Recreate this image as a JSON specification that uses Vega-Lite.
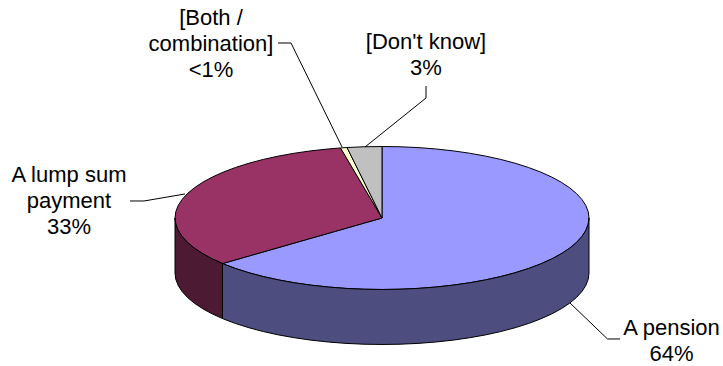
{
  "$schema": "https://vega.github.io/schema/vega-lite/v6.json",
  "width": 723,
  "height": 366,
  "padding": 0,
  "autosize": {"type": "none"},
  "background": "white",
  "config": {"view": {"stroke": null}},
  "layer": [
    {
      "data": {"values": [
        {"part":"A pension","u":0,"v":0},{"part":"A pension","u":0,"v":1},{"part":"A pension","u":0.0872,"v":0.9962},{"part":"A pension","u":0.1736,"v":0.9848},{"part":"A pension","u":0.2588,"v":0.9659},{"part":"A pension","u":0.342,"v":0.9397},{"part":"A pension","u":0.4226,"v":0.9063},{"part":"A pension","u":0.5,"v":0.866},{"part":"A pension","u":0.5736,"v":0.8192},{"part":"A pension","u":0.6428,"v":0.766},{"part":"A pension","u":0.7071,"v":0.7071},{"part":"A pension","u":0.766,"v":0.6428},{"part":"A pension","u":0.8192,"v":0.5736},{"part":"A pension","u":0.866,"v":0.5},{"part":"A pension","u":0.9063,"v":0.4226},{"part":"A pension","u":0.9397,"v":0.342},{"part":"A pension","u":0.9659,"v":0.2588},{"part":"A pension","u":0.9848,"v":0.1736},{"part":"A pension","u":0.9962,"v":0.0872},{"part":"A pension","u":1,"v":0},{"part":"A pension","u":0.9962,"v":-0.0872},{"part":"A pension","u":0.9848,"v":-0.1736},{"part":"A pension","u":0.9659,"v":-0.2588},{"part":"A pension","u":0.9397,"v":-0.342},{"part":"A pension","u":0.9063,"v":-0.4226},{"part":"A pension","u":0.866,"v":-0.5},{"part":"A pension","u":0.8192,"v":-0.5736},{"part":"A pension","u":0.766,"v":-0.6428},{"part":"A pension","u":0.7071,"v":-0.7071},{"part":"A pension","u":0.6428,"v":-0.766},{"part":"A pension","u":0.5736,"v":-0.8192},{"part":"A pension","u":0.5,"v":-0.866},{"part":"A pension","u":0.4226,"v":-0.9063},{"part":"A pension","u":0.342,"v":-0.9397},{"part":"A pension","u":0.2588,"v":-0.9659},{"part":"A pension","u":0.1736,"v":-0.9848},{"part":"A pension","u":0.0872,"v":-0.9962},{"part":"A pension","u":0,"v":-1},{"part":"A pension","u":-0.0872,"v":-0.9962},{"part":"A pension","u":-0.1736,"v":-0.9848},{"part":"A pension","u":-0.2588,"v":-0.9659},{"part":"A pension","u":-0.342,"v":-0.9397},{"part":"A pension","u":-0.4226,"v":-0.9063},{"part":"A pension","u":-0.5,"v":-0.866},{"part":"A pension","u":-0.5736,"v":-0.8192},{"part":"A pension","u":-0.6428,"v":-0.766},{"part":"A pension","u":-0.7071,"v":-0.7071},{"part":"A pension","u":-0.766,"v":-0.6428},{"part":"A pension","u":-0.7705,"v":-0.6374},

        {"part":"A lump sum payment","u":0,"v":0},{"part":"A lump sum payment","u":-0.7705,"v":-0.6374},{"part":"A lump sum payment","u":-0.8192,"v":-0.5736},{"part":"A lump sum payment","u":-0.866,"v":-0.5},{"part":"A lump sum payment","u":-0.9063,"v":-0.4226},{"part":"A lump sum payment","u":-0.9397,"v":-0.342},{"part":"A lump sum payment","u":-0.9659,"v":-0.2588},{"part":"A lump sum payment","u":-0.9848,"v":-0.1736},{"part":"A lump sum payment","u":-0.9962,"v":-0.0872},{"part":"A lump sum payment","u":-1,"v":0},{"part":"A lump sum payment","u":-0.9962,"v":0.0872},{"part":"A lump sum payment","u":-0.9848,"v":0.1736},{"part":"A lump sum payment","u":-0.9659,"v":0.2588},{"part":"A lump sum payment","u":-0.9397,"v":0.342},{"part":"A lump sum payment","u":-0.9063,"v":0.4226},{"part":"A lump sum payment","u":-0.866,"v":0.5},{"part":"A lump sum payment","u":-0.8192,"v":0.5736},{"part":"A lump sum payment","u":-0.766,"v":0.6428},{"part":"A lump sum payment","u":-0.7071,"v":0.7071},{"part":"A lump sum payment","u":-0.6428,"v":0.766},{"part":"A lump sum payment","u":-0.5736,"v":0.8192},{"part":"A lump sum payment","u":-0.5,"v":0.866},{"part":"A lump sum payment","u":-0.4226,"v":0.9063},{"part":"A lump sum payment","u":-0.342,"v":0.9397},{"part":"A lump sum payment","u":-0.2588,"v":0.9659},{"part":"A lump sum payment","u":-0.2005,"v":0.9797},

        {"part":"Both / combination","u":0,"v":0},{"part":"Both / combination","u":-0.2005,"v":0.9797},{"part":"Both / combination","u":-0.169,"v":0.9856},

        {"part":"Don't know","u":0,"v":0},{"part":"Don't know","u":-0.169,"v":0.9856},{"part":"Don't know","u":-0.0872,"v":0.9962},{"part":"Don't know","u":0,"v":1},

        {"part":"A pension side","u":1,"v":0},{"part":"A pension side","u":0.9962,"v":-0.0872},{"part":"A pension side","u":0.9848,"v":-0.1736},{"part":"A pension side","u":0.9659,"v":-0.2588},{"part":"A pension side","u":0.9397,"v":-0.342},{"part":"A pension side","u":0.9063,"v":-0.4226},{"part":"A pension side","u":0.866,"v":-0.5},{"part":"A pension side","u":0.8192,"v":-0.5736},{"part":"A pension side","u":0.766,"v":-0.6428},{"part":"A pension side","u":0.7071,"v":-0.7071},{"part":"A pension side","u":0.6428,"v":-0.766},{"part":"A pension side","u":0.5736,"v":-0.8192},{"part":"A pension side","u":0.5,"v":-0.866},{"part":"A pension side","u":0.4226,"v":-0.9063},{"part":"A pension side","u":0.342,"v":-0.9397},{"part":"A pension side","u":0.2588,"v":-0.9659},{"part":"A pension side","u":0.1736,"v":-0.9848},{"part":"A pension side","u":0.0872,"v":-0.9962},{"part":"A pension side","u":0,"v":-1},{"part":"A pension side","u":-0.0872,"v":-0.9962},{"part":"A pension side","u":-0.1736,"v":-0.9848},{"part":"A pension side","u":-0.2588,"v":-0.9659},{"part":"A pension side","u":-0.342,"v":-0.9397},{"part":"A pension side","u":-0.4226,"v":-0.9063},{"part":"A pension side","u":-0.5,"v":-0.866},{"part":"A pension side","u":-0.5736,"v":-0.8192},{"part":"A pension side","u":-0.6428,"v":-0.766},{"part":"A pension side","u":-0.7071,"v":-0.7071},{"part":"A pension side","u":-0.766,"v":-0.6428},{"part":"A pension side","u":-0.7705,"v":-0.6374},
        {"part":"A pension side","u":-0.7705,"v":-1.4064},{"part":"A pension side","u":-0.766,"v":-1.4118},{"part":"A pension side","u":-0.7071,"v":-1.4761},{"part":"A pension side","u":-0.6428,"v":-1.535},{"part":"A pension side","u":-0.5736,"v":-1.5882},{"part":"A pension side","u":-0.5,"v":-1.635},{"part":"A pension side","u":-0.4226,"v":-1.6753},{"part":"A pension side","u":-0.342,"v":-1.7087},{"part":"A pension side","u":-0.2588,"v":-1.7349},{"part":"A pension side","u":-0.1736,"v":-1.7538},{"part":"A pension side","u":-0.0872,"v":-1.7652},{"part":"A pension side","u":0,"v":-1.769},{"part":"A pension side","u":0.0872,"v":-1.7652},{"part":"A pension side","u":0.1736,"v":-1.7538},{"part":"A pension side","u":0.2588,"v":-1.7349},{"part":"A pension side","u":0.342,"v":-1.7087},{"part":"A pension side","u":0.4226,"v":-1.6753},{"part":"A pension side","u":0.5,"v":-1.635},{"part":"A pension side","u":0.5736,"v":-1.5882},{"part":"A pension side","u":0.6428,"v":-1.535},{"part":"A pension side","u":0.7071,"v":-1.4761},{"part":"A pension side","u":0.766,"v":-1.4118},{"part":"A pension side","u":0.8192,"v":-1.3426},{"part":"A pension side","u":0.866,"v":-1.269},{"part":"A pension side","u":0.9063,"v":-1.1916},{"part":"A pension side","u":0.9397,"v":-1.111},{"part":"A pension side","u":0.9659,"v":-1.0278},{"part":"A pension side","u":0.9848,"v":-0.9426},{"part":"A pension side","u":0.9962,"v":-0.8562},{"part":"A pension side","u":1,"v":-0.769},

        {"part":"A lump sum side","u":-0.7705,"v":-0.6374},{"part":"A lump sum side","u":-0.8192,"v":-0.5736},{"part":"A lump sum side","u":-0.866,"v":-0.5},{"part":"A lump sum side","u":-0.9063,"v":-0.4226},{"part":"A lump sum side","u":-0.9397,"v":-0.342},{"part":"A lump sum side","u":-0.9659,"v":-0.2588},{"part":"A lump sum side","u":-0.9848,"v":-0.1736},{"part":"A lump sum side","u":-0.9962,"v":-0.0872},{"part":"A lump sum side","u":-1,"v":0},
        {"part":"A lump sum side","u":-1,"v":-0.769},{"part":"A lump sum side","u":-0.9962,"v":-0.8562},{"part":"A lump sum side","u":-0.9848,"v":-0.9426},{"part":"A lump sum side","u":-0.9659,"v":-1.0278},{"part":"A lump sum side","u":-0.9397,"v":-1.111},{"part":"A lump sum side","u":-0.9063,"v":-1.1916},{"part":"A lump sum side","u":-0.866,"v":-1.269},{"part":"A lump sum side","u":-0.8192,"v":-1.3426},{"part":"A lump sum side","u":-0.7705,"v":-1.4064}
      ]},
      "mark": {"type": "line", "interpolate": "linear-closed", "stroke": "#000000", "strokeWidth": 1, "strokeJoin": "round"},
      "encoding": {
        "x": {"field": "u", "type": "quantitative", "axis": null, "scale": {"domain": [-1.8454, 1.6473], "nice": false, "zero": false}},
        "y": {"field": "v", "type": "quantitative", "axis": null, "scale": {"domain": [-2.07, 3.049], "nice": false, "zero": false}},
        "fill": {"field": "part", "type": "nominal", "legend": null, "scale": {
          "domain": ["A pension", "A lump sum payment", "Both / combination", "Don't know", "A pension side", "A lump sum side"],
          "range": ["#9999FF", "#993366", "#FFFFCC", "#C0C0C0", "#4D4D80", "#4D1A33"]}},
        "detail": {"field": "part"},
        "order": {"value": null}
      }
    },
    {
      "data": {"values": [
        {"leader":"Both / combination","u":-0.5024,"v":2.4476},{"leader":"Both / combination","u":-0.4396,"v":2.4476},{"leader":"Both / combination","u":-0.1932,"v":0.993},
        {"leader":"Don't know","u":0.2126,"v":1.846},{"leader":"Don't know","u":0.2126,"v":1.678},{"leader":"Don't know","u":-0.0821,"v":0.993},
        {"leader":"A pension","u":0.9082,"v":-1.189},{"leader":"A pension","u":1.0894,"v":-1.692},{"leader":"A pension","u":1.1498,"v":-1.692},
        {"leader":"A lump sum payment","u":-1.2174,"v":0.2378},{"leader":"A lump sum payment","u":-1.1498,"v":0.2378},{"leader":"A lump sum payment","u":-0.9517,"v":0.3357}
      ]},
      "mark": {"type": "line", "stroke": "#000000", "strokeWidth": 1},
      "encoding": {
        "x": {"field": "u", "type": "quantitative", "axis": null, "scale": {"domain": [-1.8454, 1.6473], "nice": false, "zero": false}},
        "y": {"field": "v", "type": "quantitative", "axis": null, "scale": {"domain": [-2.07, 3.049], "nice": false, "zero": false}},
        "detail": {"field": "leader"},
        "order": {"value": null}
      }
    },
    {
      "data": {"values": [
        {"label":"A pension\n64%","u":1.3986,"v":-1.636},
        {"label":"A lump sum\npayment\n33%","u":-1.5121,"v":0.5035},
        {"label":"[Both /\ncombination]\n<1%","u":-0.8261,"v":2.706},
        {"label":"[Don't know]\n3%","u":0.2126,"v":2.37}
      ]},
      "mark": {"type": "text", "font": "Liberation Sans", "fontSize": 22, "lineBreak": "\n", "lineHeight": 26, "align": "center", "baseline": "alphabetic", "color": "#000000"},
      "encoding": {
        "x": {"field": "u", "type": "quantitative", "axis": null, "scale": {"domain": [-1.8454, 1.6473], "nice": false, "zero": false}},
        "y": {"field": "v", "type": "quantitative", "axis": null, "scale": {"domain": [-2.07, 3.049], "nice": false, "zero": false}},
        "text": {"field": "label"}
      }
    }
  ]
}
